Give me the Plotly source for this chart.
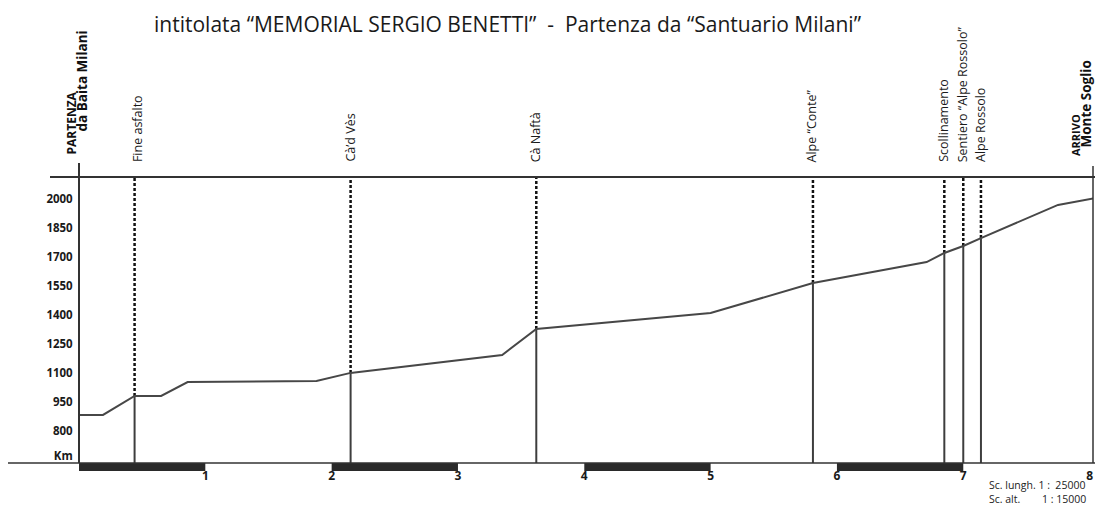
import plotly.graph_objects as go
import numpy as np

# ---- data ----
profile_km = [0, 0.19, 0.44, 0.65, 0.86, 1.88, 2.15, 3.35, 3.62, 4.49, 5.0, 5.81, 6.71, 6.85, 7.0, 7.14, 7.75, 8.03]
profile_elev = [883, 883, 981, 981, 1053, 1058, 1100, 1192, 1327, 1378, 1409, 1564, 1672, 1719, 1755, 1796, 1967, 2000]

waypoint_names = ["Fine asfalto", "Cà’d Vès", "Cà Naftà", "Alpe “Conte”", "Scollinamento",
                  "Sentiero “Alpe Rossolo”", "Alpe Rossolo"]
waypoint_km = [0.44, 2.15, 3.62, 5.81, 6.85, 7.0, 7.14]

km_bar_starts = [0, 2, 4, 6]
km_bar_ends = [1, 3, 5, 7]

x_tick_vals = [1, 2, 3, 4, 5, 6, 7, 8]
x_tick_text = ["1", "2", "3", "4", "5", "6", "7", "8"]
y_tick_vals = [671, 800, 950, 1100, 1250, 1400, 1550, 1700, 1850, 2000]
y_tick_text = ["Km", "800", "950", "1100", "1250", "1400", "1550", "1700", "1850", "2000"]

title_text = "intitolata “MEMORIAL SERGIO BENETTI”  -  Partenza da “Santuario Milani”"
start_labels = ["PARTENZA", "da Baita Milani"]
end_labels = ["ARRIVO", "Monte Soglio"]
scale_labels = ["Sc. lungh. 1 :\u00a0 25000", "Sc. alt.\u00a0\u00a0\u00a0\u00a0\u00a0\u00a0\u00a0 1 : 15000"]

Y_MIN, Y_MAX = 635, 2111
X_MAX = 8.027

FONT = "Open Sans"
LINE = "#3e3e3e"

# geometry (page pixels): plot area spans x 79..1093, y 177..463; figure sits at page (8, 8)
FIG_W, FIG_H = 1087, 501
PL, PR, PT, PB = 79, 1093, 177, 463
W = PR - PL
H = PB - PT

def px_x(px):
    return (px - PL) / W

def py(px):
    return 1 + (PT - px) / H

fig = go.Figure()

# solid segments (ground to profile) and dotted segments (profile to top)
wp_elev = np.interp(waypoint_km, profile_km, profile_elev)
sx, sy, dx, dy = [], [], [], []
for k, e in zip(waypoint_km, wp_elev):
    sx += [k, k, None]
    sy += [Y_MIN, e, None]
    dx += [k, k, None]
    dy += [e, Y_MAX, None]

fig.add_trace(go.Scatter(x=sx, y=sy, mode="lines", line=dict(color=LINE, width=2), hoverinfo="skip"))
fig.add_trace(go.Scatter(x=dx, y=dy, mode="lines", line=dict(color="#111111", width=2.5, dash="3px,2px"), hoverinfo="skip"))
fig.add_trace(go.Scatter(x=profile_km, y=profile_elev, mode="lines", line=dict(color="#474747", width=2), hoverinfo="skip"))

shapes = []
# km bars below axis
for a, b in zip(km_bar_starts, km_bar_ends):
    shapes.append(dict(type="rect", xref="x", yref="paper", x0=a, x1=b,
                       ysizemode="pixel", yanchor=0, y0=0, y1=-8,
                       fillcolor="#2a2a2a", line=dict(width=0)))
# frame lines
shapes.append(dict(type="line", xref="paper", yref="paper", x0=px_x(8), x1=px_x(1095), y0=0, y1=0,
                   line=dict(color="#333333", width=1.5)))
shapes.append(dict(type="line", xref="paper", yref="paper", x0=px_x(50), x1=px_x(1095), y0=1, y1=1,
                   line=dict(color="#333333", width=2)))
shapes.append(dict(type="line", xref="paper", yref="paper", x0=0, x1=0, y0=0, y1=py(163),
                   line=dict(color="#333333", width=2)))
shapes.append(dict(type="line", xref="paper", yref="paper", x0=1.0, x1=1.0, y0=0, y1=py(166),
                   line=dict(color="#333333", width=1.5)))

annotations = []
for name, k in zip(waypoint_names, waypoint_km):
    xs = 3 if name == "Fine asfalto" else -1
    annotations.append(dict(x=k, xref="x", y=py(164), yref="paper", text=name, textangle=-90,
                            xanchor="center", yanchor="bottom", showarrow=False, xshift=xs,
                            font=dict(family=FONT, size=12.5, color="#1a1a1a")))

annotations.append(dict(x=0, xref="x", y=py(157), yref="paper", text=start_labels[0], textangle=-90,
                        xanchor="center", yanchor="bottom", showarrow=False, xshift=-8,
                        font=dict(family=FONT, size=12, color="#111111", weight="bold")))
annotations.append(dict(x=0, xref="x", y=py(134), yref="paper", text=start_labels[1], textangle=-90,
                        xanchor="center", yanchor="bottom", showarrow=False, xshift=3,
                        font=dict(family=FONT, size=13.5, color="#111111", weight="bold")))
annotations.append(dict(x=X_MAX, xref="x", y=py(158), yref="paper", text=end_labels[0], textangle=-90,
                        xanchor="center", yanchor="bottom", showarrow=False, xshift=-18,
                        font=dict(family=FONT, size=11, color="#111111", weight="bold")))
annotations.append(dict(x=X_MAX, xref="x", y=py(150), yref="paper", text=end_labels[1], textangle=-90,
                        xanchor="center", yanchor="bottom", showarrow=False, xshift=-8,
                        font=dict(family=FONT, size=13.5, color="#111111", weight="bold")))

annotations.append(dict(x=px_x(508), xref="paper", y=py(8), yref="paper", text=title_text,
                        xanchor="center", yanchor="top", showarrow=False,
                        font=dict(family=FONT, size=21, color="#1a1a1a")))

annotations.append(dict(x=px_x(987), xref="paper", y=py(508), yref="paper",
                        text=scale_labels[0] + "<br>" + scale_labels[1], align="left",
                        xanchor="left", yanchor="bottom", showarrow=False,
                        font=dict(family=FONT, size=10.5, color="#222222")))

fig.update_layout(
    width=FIG_W, height=FIG_H,
    margin=dict(l=PL - 8, r=FIG_W - (PR - 8), t=PT - 8, b=FIG_H - (PB - 8)),
    paper_bgcolor="white", plot_bgcolor="white",
    showlegend=False,
    shapes=shapes, annotations=annotations,
    xaxis=dict(range=[0, X_MAX], showgrid=False, zeroline=False, showline=False,
               tickvals=x_tick_vals, ticktext=x_tick_text, ticks="outside", ticklen=2,
               tickcolor="rgba(0,0,0,0)",
               tickfont=dict(family=FONT, size=12, color="#1a1a1a", weight="bold")),
    yaxis=dict(range=[Y_MIN, Y_MAX], showgrid=False, zeroline=False, showline=False,
               tickvals=y_tick_vals, ticktext=y_tick_text, ticks="outside", ticklen=3,
               tickcolor="rgba(0,0,0,0)",
               tickfont=dict(family=FONT, size=11.5, color="#1a1a1a", weight="bold")),
)

fig.write_html("out.html")
